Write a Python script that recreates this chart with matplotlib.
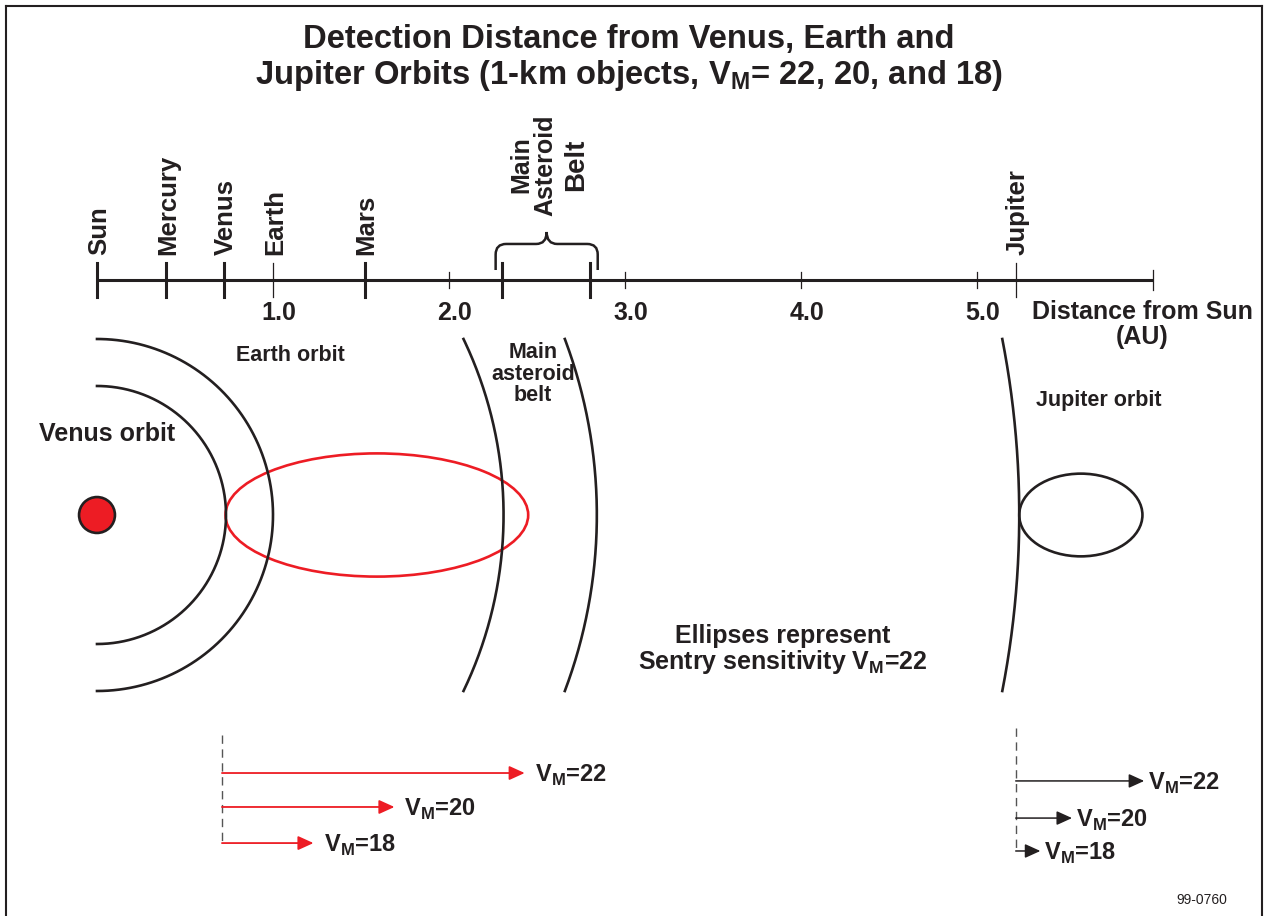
import numpy as np
import matplotlib
matplotlib.use('Agg')
from matplotlib import pyplot as plt
from matplotlib.patches import Circle, Ellipse, PathPatch
from matplotlib.path import Path
from matplotlib.lines import Line2D

plt.rcParams['font.family'] = ['Liberation Sans', 'DejaVu Sans']
plt.rcParams['mathtext.fontset'] = 'custom'
plt.rcParams['mathtext.rm'] = 'Liberation Sans:bold'
plt.rcParams['mathtext.bf'] = 'Liberation Sans:bold'

# distances in AU
planet_names = ['Sun', 'Mercury', 'Venus', 'Earth', 'Mars', 'Jupiter']
planet_dist = [0.0, 0.39, 0.72, 1.0, 1.52, 5.22]
planet_thick = [True, True, True, False, True, False]
belt_edges = [2.3, 2.8]
scale_ticks = [1.0, 2.0, 3.0, 4.0, 5.0]
scale_labels = ['1.0', '2.0', '3.0', '4.0', '5.0']
scale_end = 6.0

orbit_radius = [0.733, 1.0, 2.31, 2.84, 5.24]

# sentry sensitivity ellipses (centre x, width, height) in AU
venus_ellipse = [1.59, 1.72, 0.70]
jupiter_ellipse = [5.59, 0.70, 0.47]

magnitudes = [22, 20, 18]
venus_start = 0.71
venus_reach = [2.43, 1.69, 1.23]
jupiter_start = 5.22
jupiter_reach = [5.95, 5.54, 5.36]

dark = '#231f20'
red = '#ed1c24'

fig = plt.figure(figsize=(12.65, 9.16), dpi=100)
ax = fig.add_axes([0, 0, 1, 1])
px = 176.0  # pixels per AU
ax.set_xlim(-97 / px, (1265 - 97) / px)
ax.set_ylim(-(916 - 515) / px, 515 / px)
ax.axis('off')

# frame (open at the bottom)
for xs, ys in [([6, 6], [0, 910]), ([6, 1262], [910, 910]), ([1262, 1262], [910, 0])]:
    fig.add_artist(Line2D(np.array(xs) / 1265, np.array(ys) / 916, color=dark, lw=1.5,
                          transform=fig.transFigure))

# title
ax.text(3.02, 2.70, 'Detection Distance from Venus, Earth and', ha='center', va='center',
        fontsize=23.6, fontweight='bold', color=dark)
ax.text(3.02, 2.50, r'Jupiter Orbits (1-km objects, V$_\mathbf{M}$= 22, 20, and 18)', ha='center',
        va='center', fontsize=23.6, fontweight='bold', color=dark)

# distance scale
line_y = 1.335
ax.plot([0, scale_end], [line_y, line_y], color=dark, lw=2.2, solid_capstyle='butt')
for t in scale_ticks[1:]:
    ax.plot([t, t], [line_y - 0.045, line_y + 0.045], color=dark, lw=0.9)
ax.plot([scale_end, scale_end], [line_y - 0.055, line_y + 0.055], color=dark, lw=0.9)
for t, lab in zip(scale_ticks, scale_labels):
    ax.text(t + 0.034, 1.148, lab, ha='center', va='center', fontsize=18, fontweight='bold', color=dark)
for name, d, thick in zip(planet_names, planet_dist, planet_thick):
    ax.plot([d, d], [line_y - 0.097, line_y + 0.097], color=dark, lw=2.2 if thick else 0.9)
    ax.text(d + 0.012, 1.477, name, rotation=90, ha='center', va='bottom', fontsize=18.5,
            fontweight='bold', color=dark)
for b in belt_edges:
    ax.plot([b, b], [line_y - 0.097, line_y + 0.097], color=dark, lw=2.2)
ax.text(5.94, 1.085, 'Distance from Sun\n(AU)', ha='center', va='center', fontsize=18,
        fontweight='bold', color=dark, linespacing=1.05)

# brace over the belt
x0, x1 = belt_edges[0] - 0.035, belt_edges[1] + 0.045
xm = (x0 + x1) / 2
yb, yh, yt, r = 1.392, 1.540, 1.608, 0.06
verts = [(x0, yb), (x0, yh - r), (x0, yh), (x0 + r, yh), (xm - r, yh), (xm, yh), (xm, yt),
         (xm, yh), (xm + r, yh), (x1 - r, yh), (x1, yh), (x1, yh - r), (x1, yb)]
codes = [Path.MOVETO, Path.LINETO, Path.CURVE3, Path.CURVE3, Path.LINETO, Path.CURVE3, Path.CURVE3,
         Path.CURVE3, Path.CURVE3, Path.LINETO, Path.CURVE3, Path.CURVE3, Path.LINETO]
ax.add_patch(PathPatch(Path(verts, codes), facecolor='none', edgecolor=dark, lw=1.8))
ax.text(2.41, 1.99, 'Main', rotation=90, ha='center', va='center', fontsize=18, fontweight='bold', color=dark)
ax.text(2.55, 1.99, 'Asteroid', rotation=90, ha='center', va='center', fontsize=18, fontweight='bold', color=dark)
ax.text(2.725, 1.99, 'Belt', rotation=90, ha='center', va='center', fontsize=20, fontweight='bold', color=dark)

# orbits around the sun
for rad in orbit_radius:
    tmax = np.arcsin(min(1.0, 1.0 / rad))
    th = np.linspace(-tmax, tmax, 300)
    ax.plot(rad * np.cos(th), rad * np.sin(th), color=dark, lw=1.9)
ax.add_patch(Circle((0, 0), 0.102, facecolor=red, edgecolor=dark, lw=1.9, zorder=3))

ax.add_patch(Ellipse((venus_ellipse[0], 0), venus_ellipse[1], venus_ellipse[2], facecolor='none',
                     edgecolor=red, lw=1.9))
ax.add_patch(Ellipse((jupiter_ellipse[0], 0), jupiter_ellipse[1], jupiter_ellipse[2], facecolor='none',
                     edgecolor=dark, lw=1.9))

ax.text(1.097, 0.909, 'Earth orbit', ha='center', va='center', fontsize=15.5, fontweight='bold', color=dark)
ax.text(0.057, 0.46, 'Venus orbit', ha='center', va='center', fontsize=18, fontweight='bold', color=dark)
ax.text(2.477, 0.80, 'Main\nasteroid\nbelt', ha='center', va='center', fontsize=15.5, fontweight='bold',
        color=dark, linespacing=1.03)
ax.text(5.69, 0.648, 'Jupiter orbit', ha='center', va='center', fontsize=15.5, fontweight='bold', color=dark)
ax.text(3.898, -0.767, 'Ellipses represent\nSentry sensitivity V$_\\mathbf{M}$=22', ha='center', va='center',
        fontsize=18, fontweight='bold', color=dark, linespacing=1.0)

# detection distance arrows
venus_rows = [-1.466, -1.659, -1.864]
jupiter_rows = [-1.511, -1.722, -1.909]
ax.plot([venus_start, venus_start], [-1.25, -1.875], color='#555555', lw=1.0, ls=(0, (6, 4)))
ax.plot([jupiter_start, jupiter_start], [-1.21, -1.909], color='#555555', lw=1.0, ls=(0, (6, 4)))
for m, end, row in zip(magnitudes, venus_reach, venus_rows):
    ax.annotate('', xy=(end, row), xytext=(venus_start, row),
                arrowprops=dict(arrowstyle='-|>,head_length=0.55,head_width=0.25', color=red, lw=1.3,
                                mutation_scale=17, shrinkA=0, shrinkB=0))
    ax.text(end + 0.057, row - 0.051, 'V$_\\mathbf{M}$=%d' % m, ha='left', va='baseline', fontsize=17,
            fontweight='bold', color=dark)
for m, end, row in zip(magnitudes, jupiter_reach, jupiter_rows):
    ax.annotate('', xy=(end, row), xytext=(jupiter_start, row),
                arrowprops=dict(arrowstyle='-|>,head_length=0.55,head_width=0.25', color=dark, lw=1.1,
                                mutation_scale=17, shrinkA=0, shrinkB=0))
    ax.text(end + 0.02, row - 0.051, 'V$_\\mathbf{M}$=%d' % m, ha='left', va='baseline', fontsize=17,
            fontweight='bold', color=dark)

ax.text(6.28, -2.19, '99-0760', ha='center', va='center', fontsize=10, color=dark)

fig.savefig('out.png', dpi=100)
